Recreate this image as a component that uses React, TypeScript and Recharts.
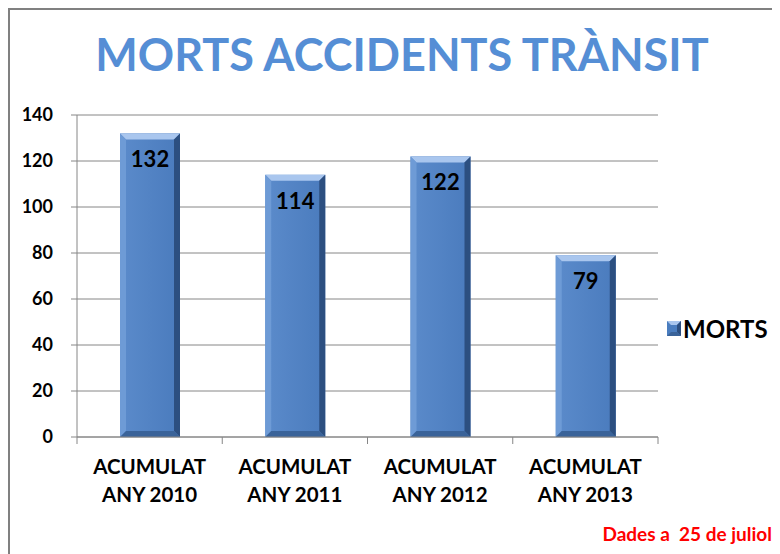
import { BarChart, Bar, XAxis, YAxis, CartesianGrid, LabelList, Legend } from "recharts";

const categories = ["ACUMULAT ANY 2010", "ACUMULAT ANY 2011", "ACUMULAT ANY 2012", "ACUMULAT ANY 2013"];
const morts = [132, 114, 122, 79];
const yTicks = [0, 20, 40, 60, 80, 100, 120, 140];

const data = categories.map((name, i) => ({ name, MORTS: morts[i] }));

const W = 772;
const H = 546;
const MARGIN = { top: 107, right: 122, bottom: 47, left: 0 };
const Y_W = 69;
const BAND = (W - MARGIN.right - MARGIN.left - Y_W) / categories.length;
const FONT = "Lato, 'Open Sans', sans-serif";

function BevelBar(props: any) {
  const { x, y, width, height } = props;
  if (!height || height <= 0) return null;
  const b = 6;
  return (
    <g>
      <rect x={x} y={y} width={width} height={height} fill="url(#barFace)" />
      <polygon points={`${x},${y} ${x + width},${y} ${x + width - b},${y + b} ${x + b},${y + b}`} fill="#a9c6ee" />
      <polygon points={`${x},${y} ${x + b},${y + b} ${x + b},${y + height - b} ${x},${y + height}`} fill="#6e9bd6" />
      <polygon points={`${x + width},${y} ${x + width},${y + height} ${x + width - b},${y + height - b} ${x + width - b},${y + b}`} fill="#2c4f80" />
      <polygon points={`${x},${y + height} ${x + b},${y + height - b} ${x + width - b},${y + height - b} ${x + width},${y + height}`} fill="#3a6399" />
    </g>
  );
}

function XTick({ x, y, payload, index }: any) {
  const [l1, ...rest] = String(payload.value).split(" ");
  const l2 = rest.join(" ");
  return (
    <g>
      <line x1={x - BAND / 2} y1={y} x2={x - BAND / 2} y2={y + 7} stroke="#868686" />
      {index === categories.length - 1 && (
        <line x1={x + BAND / 2} y1={y} x2={x + BAND / 2} y2={y + 7} stroke="#868686" />
      )}
      <text x={x} y={y + 37} textAnchor="middle" fontFamily={FONT} fontWeight="bold" fontSize={20.5} fill="#000">{l1}</text>
      <text x={x} y={y + 65} textAnchor="middle" fontFamily={FONT} fontWeight="bold" fontSize={20.5} fill="#000">{l2}</text>
    </g>
  );
}

function ValueLabel({ x, y, width, value }: any) {
  return (
    <text x={x + width / 2} y={y + 34} textAnchor="middle" fontFamily={FONT} fontWeight="bold" fontSize={22} fill="#000">
      {value}
    </text>
  );
}

function MortsLegend() {
  return (
    <div style={{ display: "flex", alignItems: "center", fontFamily: FONT, fontWeight: "bold", fontSize: 24, color: "#000" }}>
      <svg width={14} height={15} style={{ marginRight: 2 }}>
        <rect x={0} y={0} width={14} height={15} fill="#4a7dbf" />
        <polygon points="0,0 14,0 10,4 4,4" fill="#a9c6ee" />
        <polygon points="14,0 14,15 10,11 10,4" fill="#2c4f80" />
        <polygon points="0,15 4,11 10,11 14,15" fill="#3a6399" />
      </svg>
      MORTS
    </div>
  );
}

export default function App() {
  return (
    <div style={{ position: "relative", width: W, height: H }}>
      <div style={{ position: "absolute", left: 0, top: 0, width: W, height: H, borderLeft: "2px solid #808080", borderTop: "2px solid #808080", boxSizing: "border-box" }} />
      <div style={{ position: "absolute", left: 394, top: 24, transform: "translateX(-50%)", whiteSpace: "nowrap", fontFamily: FONT, fontWeight: "bold", fontSize: 45, lineHeight: 1, color: "#558ed5" }}>
        MORTS ACCIDENTS TRÀNSIT
      </div>
      <BarChart width={W} height={H} data={data} margin={MARGIN}>
        <defs>
          <linearGradient id="barFace" x1="0" y1="0" x2="1" y2="0">
            <stop offset="0%" stopColor="#5b8bcb" />
            <stop offset="100%" stopColor="#4a7bbd" />
          </linearGradient>
        </defs>
        <CartesianGrid vertical={false} stroke="#868686" />
        <XAxis dataKey="name" interval={0} height={70} tickSize={0} tickMargin={0} tick={<XTick />} axisLine={{ stroke: "#868686" }} />
        <YAxis
          width={Y_W}
          domain={[0, 140]}
          ticks={yTicks}
          interval={0}
          tickSize={6}
          tickMargin={18}
          axisLine={{ stroke: "#868686" }}
          tickLine={{ stroke: "#868686" }}
          tick={{ fontFamily: FONT, fontWeight: "bold", fontSize: 18, fill: "#000" }}
        />
        <Legend
          layout="horizontal"
          align="center"
          verticalAlign="middle"
          content={<MortsLegend />}
          wrapperStyle={{ left: 659, top: 306, width: "auto" }}
        />
        <Bar dataKey="MORTS" barSize={60} shape={<BevelBar />} isAnimationActive={false}>
          <LabelList dataKey="MORTS" content={<ValueLabel />} />
        </Bar>
      </BarChart>
      <div style={{ position: "absolute", right: 8, top: 516, fontFamily: FONT, fontWeight: "bold", fontSize: 19, lineHeight: 1, color: "#ff0000", whiteSpace: "pre" }}>
        {"Dades a  25 de juliol"}
      </div>
    </div>
  );
}
